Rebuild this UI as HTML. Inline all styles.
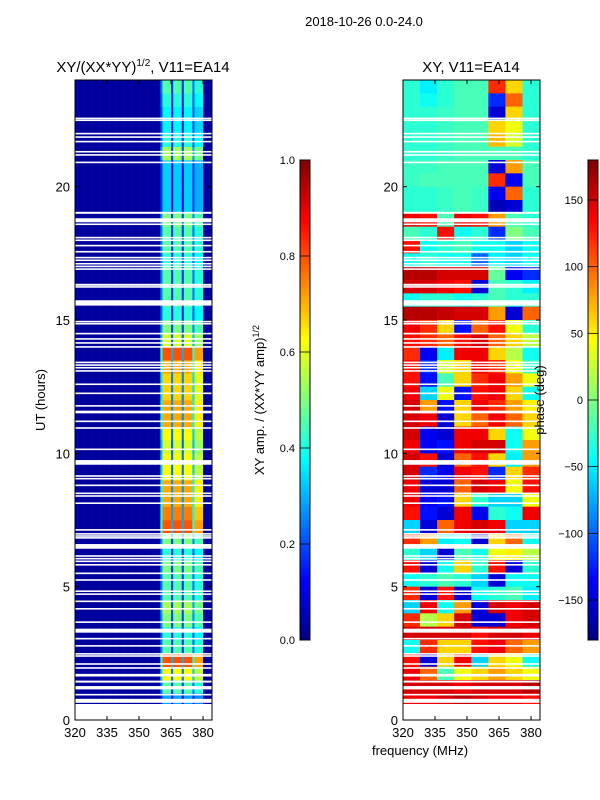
<!DOCTYPE html>
<html><head><meta charset="utf-8">
<style>
html,body{margin:0;padding:0;background:#fff;width:600px;height:800px;overflow:hidden}
svg{display:block;font-family:"Liberation Sans",sans-serif}
</style></head>
<body>
<svg id="fig" width="600" height="800" viewBox="0 0 600 800" xmlns="http://www.w3.org/2000/svg">
<text x="364" y="26" font-size="13" text-anchor="middle">2018-10-26 0.0-24.0</text>
<text x="143" y="72" font-size="15" text-anchor="middle">XY/(XX*YY)<tspan font-size="10" dy="-6">1/2</tspan><tspan dy="6">, V11=EA14</tspan></text>
<text x="471" y="72" font-size="15" text-anchor="middle">XY, V11=EA14</text>
<g id="left"></g>
<g id="right"></g>
<g id="axes"></g>
<text transform="translate(45,400) rotate(-90)" font-size="13" text-anchor="middle">UT (hours)</text>
<text x="420" y="755" font-size="13" text-anchor="middle">frequency (MHz)</text>
<text transform="translate(264,400) rotate(-90)" font-size="13" text-anchor="middle">XY amp. / (XX*YY amp)<tspan font-size="9" dy="-5">1/2</tspan></text>
<text transform="translate(544,400) rotate(-90)" font-size="13" text-anchor="middle">phase (deg)</text>
</svg>
<script>
// ---- data ----
const freqBins = Array.from({length:64},(_,i)=>320+i); // 1 MHz channels
const colProfile = [
0,0,0,0,0,0,0,0,0,0,0,0,0,0,0,0,0,0,0,0,
0,0,0,0,0,0,0,0,0,0,0,0,0,0,0,0,0,0,0,0,
0.5,1,1,1,1,0.35,1,1,1,1,0.35,1,1,1,1,0.5,0.9,0.9,0.9,0.9,0,0,0,0];
// band intensity per half hour, from t=0 upward
const rowIntensity = [0,0.3,0.5,0.7,0.9,0.5,0.45,0.55,0.6,0.5,0.5,0.55,0.45,0.55,0.9,0.85,0.8,0.8,0.7,0.7,0.65,0.7,0.8,0.8,0.75,0.75,0.8,0.9,0.65,0.55,0.45,0.5,0.5,0.5,0.45,0.5,0.5,0.55,0.35,0.35,0.35,0.35,0.6,0.45,0.4,0.4,0.45,0.5];
// phase (deg) per half hour from t=24 downward, 8 MHz channels
const phaseRows = [
[-30,-50,-30,-20,-20,120,60,-30],[-30,-40,-30,-20,-20,-120,100,-30],[-30,-30,-25,-20,-20,-150,60,-30],[-30,-30,-25,-20,-20,60,40,-30],
[-30,-30,-25,-20,-20,70,30,-30],[-30,-30,-25,-20,-20,-20,-20,-30],[-25,-25,-20,-20,-20,-150,80,-20],[-25,-20,-20,-20,-20,120,-140,-20],
[-30,-30,-25,-20,-25,-140,100,-30],[-30,-30,-25,-20,-25,-160,-150,-30],[140,130,-20,140,130,80,-20,-30],[-20,-30,130,-40,-30,-120,0,-20],
[130,-40,-30,-20,-40,-40,-60,-40],[-40,-30,-40,-40,-100,-50,-60,-40],[160,160,150,150,150,-10,-140,-120],[150,150,140,130,-150,-20,-30,-50],
[-40,-30,-30,-40,-30,-20,-30,-30],[160,160,155,150,150,80,-150,100],[140,120,60,-130,100,130,40,-30],[130,120,100,130,150,100,60,20],
[120,-140,-50,140,140,60,20,-40],[130,-120,30,60,140,120,40,-30],[130,-130,-20,60,120,140,80,40],[140,-60,40,-130,130,140,60,-40],
[150,80,-130,60,140,120,80,50],[150,140,-150,60,100,140,100,60],[150,-140,-150,140,140,60,-40,40],[140,-140,-130,140,150,150,-40,80],
[150,130,-150,100,130,60,-50,80],[150,-120,-140,140,130,-120,60,120],[140,-150,-150,100,150,140,40,130],[140,-140,-130,60,-30,-60,-60,40],
[130,-130,-150,140,-140,-30,-40,140],[-60,-150,100,140,150,140,-60,-60],[120,80,-50,-40,-150,60,100,-40],[-30,-60,-150,-20,-40,40,50,20],
[130,-150,-40,60,-30,130,-150,-30],[-40,-30,-20,-30,-60,-150,-40,-40],[120,-150,130,-150,-40,-30,-20,-50],[-60,140,-40,80,-150,150,140,150],
[120,20,60,150,-150,-150,140,150],[150,150,150,150,130,150,150,140],[-40,120,60,60,130,140,100,80],[130,-150,60,140,-60,60,40,-40],
[140,100,-20,40,60,80,60,40],[150,150,150,140,150,150,150,160],[140,140,150,160,150,140,140,130],[0,0,0,0,0,0,0,0]];
// flagged (white) time intervals: centers and widths in hours
const gapCenters = [22.56,22.49,21.99,21.86,21.69,21.31,21.19,20.91,19.02,18.74,18.59,18.09,17.99,17.79,17.56,17.34,17.24,17.11,17.01,16.91,16.32,16.24,15.64,14.94,14.86,14.49,14.29,14.14,13.99,13.41,13.31,13.21,13.09,12.59,12.25,11.78,11.55,11.20,10.95,10.15,9.66,9.15,9.05,8.80,8.50,8.40,8.13,7.13,6.98,6.90,6.83,6.51,6.15,6.05,5.95,5.82,5.50,5.25,4.83,4.72,4.45,4.17,3.67,3.35,3.05,2.78,2.48,2.40,2.10,1.95,1.68,1.44,1.21,0.95,0.72,0.3];
const gapWidths = [0.06,0.06,0.06,0.06,0.06,0.06,0.06,0.06,0.075,0.15,0.06,0.06,0.06,0.06,0.06,0.06,0.06,0.06,0.06,0.06,0.075,0.06,0.2,0.06,0.06,0.06,0.06,0.06,0.06,0.06,0.06,0.06,0.06,0.06,0.06,0.06,0.1,0.06,0.06,0.06,0.175,0.06,0.06,0.06,0.06,0.06,0.06,0.06,0.06,0.06,0.06,0.175,0.06,0.06,0.06,0.06,0.06,0.06,0.06,0.06,0.06,0.06,0.06,0.15,0.06,0.06,0.06,0.06,0.06,0.06,0.1,0.075,0.125,0.06,0.15,0.6];
const xTicks = [320,335,350,365,380];
const yTicks = [0,5,10,15,20];
const ampTicks = [0.0,0.2,0.4,0.6,0.8,1.0];
const phaseTicks = [-150,-100,-50,0,50,100,150];

// ---- scales ----
const NS='http://www.w3.org/2000/svg';
const panels = {left:{x0:75}, right:{x0:403}};
const PW=137, Y0=80, Y1=720, F0=320, F1=384.2;
const xs=(f,x0)=>x0+(f-F0)/(F1-F0)*PW;
const ys=t=>Y1-t/24*(Y1-Y0);
function jet(v){v=Math.max(0,Math.min(1,v));
 const c=x=>Math.round(255*Math.max(0,Math.min(1,x)));
 return `rgb(${c(1.5-Math.abs(4*v-3))},${c(1.5-Math.abs(4*v-2))},${c(1.5-Math.abs(4*v-1))})`;}
function mk(tag,attrs,parent){const e=document.createElementNS(NS,tag);for(const k in attrs)e.setAttribute(k,attrs[k]);parent.appendChild(e);return e;}

// left amplitude heatmap
const gL=document.getElementById('left');
rowIntensity.forEach((ri,r)=>{
 freqBins.forEach((f,c)=>{
  const v=0.03+ri*colProfile[c]*0.85;
  const x=xs(f,75), y=ys((r+1)*0.5);
  const e=mk('rect',{x:x.toFixed(2),y:y.toFixed(2),width:(xs(f+1,75)-x+0.3).toFixed(2),height:(ys(r*0.5)-y+0.3).toFixed(2),fill:jet(v)},gL);
  
  
 });
});
// right phase heatmap
const gR=document.getElementById('right');
phaseRows.forEach((row,i)=>{
 const t1=24-i*0.5, t0=t1-0.5;
 row.forEach((p,c)=>{
  const f=320+c*8;
  const x=xs(f,403), y=ys(t1);
  const e=mk('rect',{x:x.toFixed(2),y:y.toFixed(2),width:(Math.min(xs(f+8,403),540)-x+0.3).toFixed(2),height:(ys(t0)-y+0.3).toFixed(2),fill:jet((p+180)/360)},gR);
  
  
 });
});
// flagged gaps
['left','right'].forEach(k=>{
 const g=document.getElementById(k), x0=panels[k].x0;
 gapCenters.forEach((c,i)=>{
  const y=ys(c+gapWidths[i]/2);
  const e=mk('rect',{x:x0,y:y.toFixed(2),width:PW,height:(ys(c-gapWidths[i]/2)-y).toFixed(2),fill:'#fff'},g);
  
  
 });
});
// axes
const gA=document.getElementById('axes');
['left','right'].forEach(k=>{
 const x0=panels[k].x0;
 const fr=mk('rect',{x:x0,y:Y0,width:PW,height:Y1-Y0,fill:'none',stroke:'#000','stroke-width':1},gA);
 
 
 xTicks.forEach(f=>{
  const x=xs(f,x0);
  mk('line',{x1:x,x2:x,y1:Y1,y2:Y1-4,stroke:'#000'},gA);
  mk('line',{x1:x,x2:x,y1:Y0,y2:Y0+4,stroke:'#000'},gA);
  const t=mk('text',{x:x,y:Y1+17,'font-size':13,'text-anchor':'middle'},gA);
  t.textContent=f;
  
  
 });
 yTicks.forEach(v=>{
  const y=ys(v);
  mk('line',{x1:x0,x2:x0+4,y1:y,y2:y,stroke:'#000'},gA);
  mk('line',{x1:x0+PW,x2:x0+PW-4,y1:y,y2:y,stroke:'#000'},gA);
  const t=mk('text',{x:x0-5,y:y+5,'font-size':13,'text-anchor':'end'},gA);
  t.textContent=v;
  
  
 });
});
// colorbars
function colorbar(x,ticks,lo,hi,name,fmt){
 const g=mk('g',{},gA);
 
 
 const N=120,top=160,bot=640;
 for(let i=0;i<N;i++){
  const y=bot-(i+1)*(bot-top)/N;
  mk('rect',{x:x,y:y.toFixed(2),width:10,height:((bot-top)/N+0.3).toFixed(2),fill:jet((i+0.5)/N)},g);
 }
 mk('rect',{x:x,y:top,width:10,height:bot-top,fill:'none',stroke:'#000'},g);
 ticks.forEach(v=>{
  const y=bot-(v-lo)/(hi-lo)*(bot-top);
  mk('line',{x1:x,x2:x+10,y1:y,y2:y,stroke:'#000','stroke-width':0.8},g);
  const t=mk('text',{x:x-5,y:y+4,'font-size':11,'text-anchor':'end'},g);
  t.textContent=fmt(v);
  
  
 });
}
colorbar(300,ampTicks,0,1,'amplitude-colorbar',v=>v.toFixed(1));
colorbar(588,phaseTicks,-180,180,'phase-colorbar',v=>String(v).replace('-','\u2212'));
</script>
</body></html>
